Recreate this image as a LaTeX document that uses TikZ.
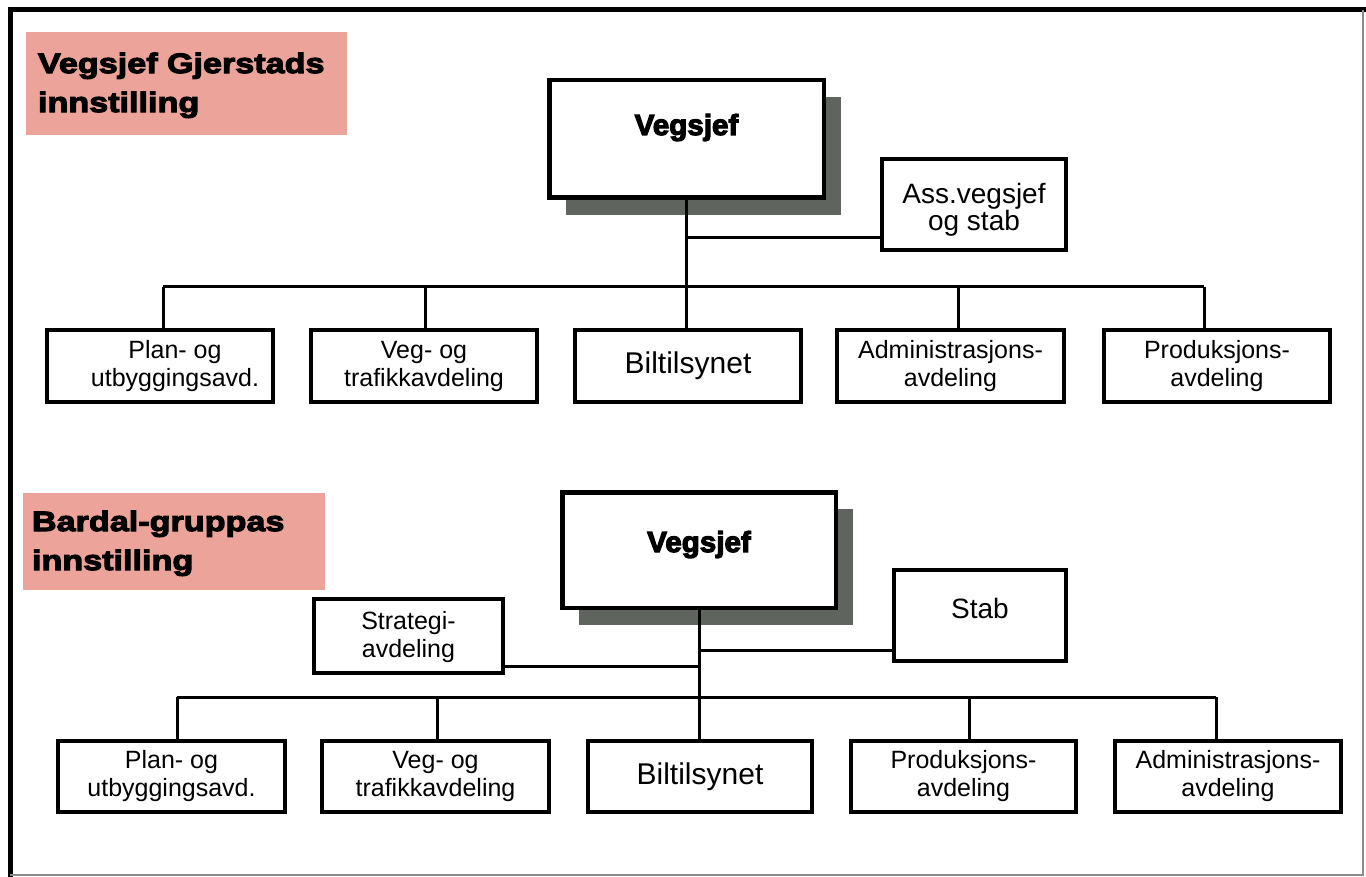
\documentclass[tikz,border=0pt]{standalone}
\usepackage{fontspec}
\usetikzlibrary{shadows}
\setmainfont{Liberation Sans}
\newfontfamily\titlefont{Liberation Sans}[FakeStretch=1.22,BoldFeatures={FakeBold=4}]
\newfontfamily\chieffont{Liberation Sans}[FakeStretch=1.02,BoldFeatures={FakeBold=4}]
\definecolor{titlepink}{RGB}{236,164,154}
\definecolor{shadowgray}{RGB}{95,100,95}
\begin{document}
\begin{tikzpicture}[x=1pt,y=-1pt,
  box/.style={draw, line width=4pt, fill=white, inner sep=0pt, align=center,
    font=\fontsize{25}{28}\selectfont},
  chief/.style={draw, line width=4.5pt, fill=white, inner xsep=0pt, inner ysep=0pt,
    font=\chieffont\bfseries\fontsize{29}{34}\selectfont,
    drop shadow={shadow xshift=17pt, shadow yshift=-17pt, fill=shadowgray, opacity=1}},
  titlebox/.style={fill=titlepink, inner ysep=0pt, align=left,
    font=\titlefont\bfseries\fontsize{28}{39}\selectfont},
  conn/.style={line width=3pt}]
\useasboundingbox (0,0) rectangle (1366,877);
\fill[white] (0,0) rectangle (1366,877);
% frame
\draw[line width=5pt] (1366,10) -- (10,10) -- (10,877);
\draw[line width=2pt, black!45] (10,875) -- (1363,875) -- (1363,10);

% ---------- top chart ----------
\node[titlebox, text width=297pt, inner xsep=12pt, minimum height=103pt] (t1) at (186.5,83.5)
  {\rule{0pt}{24pt}Vegsjef Gjerstads\\innstilling};
\node[chief, minimum width=274.5pt, text height=54.75pt, text depth=62.75pt] (v1) at (686.5,139) {Vegsjef};
\node[box, minimum width=184pt, minimum height=91pt, font=\fontsize{28}{27.5}\selectfont] (ass) at (974,204.5)
  {\rule{0pt}{31pt}Ass.vegsjef\\og stab};

\node[box, minimum width=226pt, minimum height=72pt] (plan1) at (160,366) {\hspace*{30pt}Plan- og\\\hspace*{30pt}utbyggingsavd.};
\node[box, minimum width=226pt, minimum height=72pt] (veg1) at (424,366) {Veg- og\\trafikkavdeling};
\node[box, minimum width=226pt, minimum height=72pt, font=\fontsize{30}{34}\selectfont] (bil1) at (688,366) {Biltilsynet};
\node[box, minimum width=227pt, minimum height=72pt] (adm1) at (950.5,366) {Administrasjons-\\avdeling};
\node[box, minimum width=226pt, minimum height=72pt] (prod1) at (1217,366) {Produksjons-\\avdeling};

\coordinate (j1) at (686,287);
\coordinate (a1) at (686,238);
\coordinate (bl1) at (163,287);
\coordinate (br1) at (1204,287);
\draw[conn] (v1.south -| j1) -- (j1);
\draw[conn] (a1) -- (a1 -| ass.west);
\draw[conn] (bl1) -- (br1);
\draw[conn] (bl1) -- (bl1 |- plan1.north);
\draw[conn] (425,287) -- (425,287 |- veg1.north);
\draw[conn] (j1) -- (j1 |- bil1.north);
\draw[conn] (958,287) -- (958,287 |- adm1.north);
\draw[conn] (br1) -- (br1 |- prod1.north);

% ---------- bottom chart ----------
\node[titlebox, text width=284pt, inner xsep=9pt, minimum height=97pt] (t2) at (174,541.5)
  {\rule{0pt}{24pt}Bardal-gruppas\\innstilling};
\node[chief, minimum width=273.5pt, text height=59.75pt, text depth=55.75pt] (v2) at (699,550) {Vegsjef};
\node[box, minimum width=172pt, text height=48pt, text depth=43pt, font=\fontsize{28}{32}\selectfont] (stab) at (980,615.5) {Stab};
\node[box, minimum width=189pt, minimum height=74pt] (strat) at (408.5,636) {\rule{0pt}{20pt}Strategi-\\avdeling};

\node[box, minimum width=227pt, minimum height=71pt] (plan2) at (171.5,776.5) {Plan- og\\utbyggingsavd.};
\node[box, minimum width=227pt, minimum height=71pt] (veg2) at (435.5,776.5) {Veg- og\\trafikkavdeling};
\node[box, minimum width=224pt, minimum height=71pt, font=\fontsize{30}{34}\selectfont] (bil2) at (700,776.5) {Biltilsynet};
\node[box, minimum width=225pt, minimum height=71pt] (prod2) at (963.5,776.5) {Produksjons-\\avdeling};
\node[box, minimum width=226pt, minimum height=71pt] (adm2) at (1228,776.5) {Administrasjons-\\avdeling};

\coordinate (j2) at (699,697);
\coordinate (s2) at (699,650);
\coordinate (g2) at (699,666);
\coordinate (bl2) at (177,697);
\coordinate (br2) at (1216,697);
\draw[conn] (v2.south -| j2) -- (j2);
\draw[conn] (s2) -- (s2 -| stab.west);
\draw[conn] (g2 -| strat.east) -- (g2);
\draw[conn] (bl2) -- (br2);
\draw[conn] (bl2) -- (bl2 |- plan2.north);
\draw[conn] (437,697) -- (437,697 |- veg2.north);
\draw[conn] (j2) -- (j2 |- bil2.north);
\draw[conn] (969,697) -- (969,697 |- prod2.north);
\draw[conn] (br2) -- (br2 |- adm2.north);
\end{tikzpicture}
\end{document}
